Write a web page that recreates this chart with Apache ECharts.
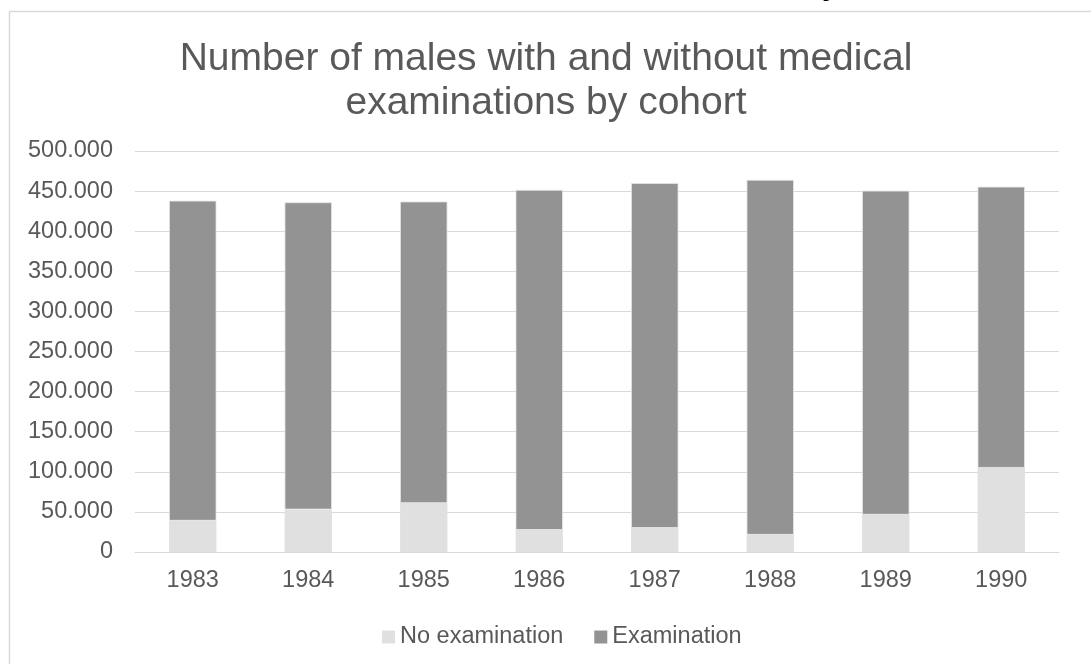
<!DOCTYPE html>
<html>
<head>
<meta charset="utf-8">
<title>Number of males with and without medical examinations by cohort</title>
<script src="https://cdn.jsdelivr.net/npm/echarts@6/dist/echarts.min.js"></script>
<style>
	html,body{margin:0;padding:0;background:#fff;}
	#chart{width:1091px;height:664px;}
</style>
</head>
<body>
<div id="chart"></div>
<script>
	// cohorts and counts
	var cohorts=['1983','1984','1985','1986','1987','1988','1989','1990'];
	var noExamination=[39000,53000,61000,27500,30000,21500,46500,105000];
	var examination=[399000,383000,376000,424000,430000,442500,404000,350500];
	var yTickLabels=['0','50.000','100.000','150.000','200.000','250.000','300.000','350.000','400.000','450.000','500.000'];

	var txt='#595959';
	var font='Liberation Sans, Arial, sans-serif';

	var chart=echarts.init(document.getElementById('chart'));
	var option={
		animation:false,
		textStyle:{fontFamily:font},
		title:{
			text:'Number of males with and without medical\nexaminations by cohort',
			left:541,
			textAlign:'center',
			top:32,
			textStyle:{fontFamily:font,fontWeight:'normal',fontSize:39,lineHeight:44,color:txt}
		},
		grid:{left:135,right:32,top:151,bottom:112},
		legend:{
			left:377,
			top:620,
			icon:'rect',
			itemWidth:13,
			itemHeight:13,
			itemGap:31,
			itemStyle:{borderWidth:0},
			textStyle:{fontFamily:font,fontSize:23.5,color:txt},
			data:['No examination','Examination']
		},
		xAxis:{
			type:'category',
			data:cohorts,
			axisLine:{lineStyle:{color:'#d9d9d9',width:1}},
			axisTick:{show:false},
			axisLabel:{fontFamily:font,fontSize:23.5,color:txt,margin:17}
		},
		yAxis:{
			type:'value',
			min:0,
			max:500000,
			interval:50000,
			axisLine:{show:false},
			axisTick:{show:false},
			splitLine:{lineStyle:{color:'#d9d9d9',width:1}},
			axisLabel:{
				fontFamily:font,fontSize:23.5,color:txt,margin:22,
				formatter:function(v){return yTickLabels[Math.round(v/50000)];}
			}
		},
		series:[{
			name:'No examination',
			type:'bar',
			stack:'total',
			barCategoryGap:'59%',
			itemStyle:{color:'#e0e0e0'},
			data:noExamination
		},{
			name:'Examination',
			type:'bar',
			stack:'total',
			barCategoryGap:'59%',
			itemStyle:{color:'#939393',borderColor:'#e6e6e6',borderWidth:0.8},
			data:examination
		}],
		graphic:[{
			type:'rect',
			silent:true,
			shape:{x:9.5,y:11.5,width:1200,height:800},
			style:{fill:'none',stroke:'#d9d9d9',lineWidth:1.5}
		},{
			// cut-off text above the chart frame
			type:'text',
			silent:true,
			style:{text:'y',x:822,y:2,font:'bold 30px '+font,fill:'#000',verticalAlign:'bottom'}
		}]
	};
	chart.setOption(option);
</script>
</body>
</html>
